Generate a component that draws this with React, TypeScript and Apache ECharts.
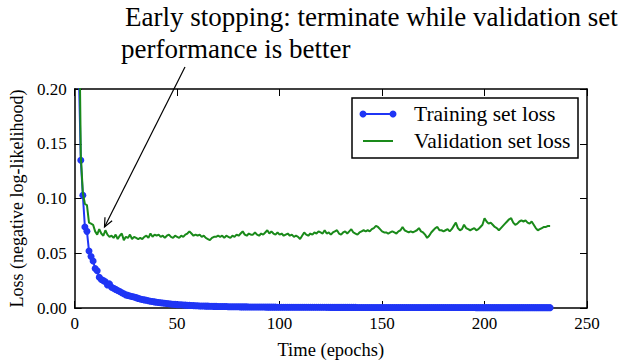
import React, { useEffect, useRef } from "react";
import * as echarts from "echarts";

// Loss values per epoch (epoch = index + 1)
const trainingLoss = [
  0.45, 0.22, 0.135, 0.103, 0.074, 0.070, 0.052, 0.047, 0.043, 0.036,
  0.034, 0.028, 0.026, 0.025, 0.024, 0.021, 0.022, 0.019, 0.018, 0.017,
  0.016, 0.015, 0.014, 0.013, 0.012, 0.0115, 0.011, 0.0105, 0.010, 0.0095,
  0.0088, 0.0082, 0.0078, 0.0074, 0.007, 0.0066, 0.0062, 0.0059, 0.0056, 0.0053,
  0.005, 0.0048, 0.0046, 0.0043, 0.0041, 0.0039, 0.0037, 0.0035, 0.0033, 0.0031,
  0.003, 0.0029, 0.0027, 0.0026, 0.0025, 0.0024, 0.0023, 0.0022, 0.0021, 0.002,
  0.0019, 0.0019, 0.0018, 0.0017, 0.0017, 0.0016, 0.0016, 0.0015, 0.0015, 0.0014,
  0.0014, 0.0013, 0.0013, 0.0013, 0.0012, 0.0012, 0.0012, 0.0011, 0.0011, 0.0011,
  0.0010, 0.0010, 0.0010, 0.0010, 0.00095, 0.00095, 0.0009, 0.0009, 0.0009, 0.00088,
  0.00085, 0.00085, 0.00083, 0.0008, 0.0008, 0.0008, 0.00078, 0.00077, 0.00075, 0.00075,
  0.00074, 0.00073, 0.00072, 0.00072, 0.00071, 0.0007, 0.0007, 0.00069, 0.00068, 0.00068, 0.00067, 0.00066,
  0.00066, 0.00065, 0.00065, 0.00064, 0.00063, 0.00063, 0.00062, 0.00062, 0.00061, 0.00061, 0.0006, 0.0006,
  0.00059, 0.00059, 0.00058, 0.00058, 0.00057, 0.00057, 0.00056, 0.00056, 0.00055, 0.00055, 0.00055, 0.00054,
  0.00054, 0.00053, 0.00053, 0.00053, 0.00052, 0.00052, 0.00051, 0.00051, 0.00051, 0.0005, 0.0005, 0.0005,
  0.00049, 0.00049, 0.00049, 0.00048, 0.00048, 0.00048, 0.00047, 0.00047, 0.00047, 0.00046, 0.00046, 0.00046,
  0.00046, 0.00045, 0.00045, 0.00045, 0.00044, 0.00044, 0.00044, 0.00044, 0.00043, 0.00043, 0.00043, 0.00043,
  0.00042, 0.00042, 0.00042, 0.00042, 0.00041, 0.00041, 0.00041, 0.00041, 0.0004, 0.0004, 0.0004, 0.0004,
  0.0004, 0.00039, 0.00039, 0.00039, 0.00039, 0.00039, 0.00038, 0.00038, 0.00038, 0.00038, 0.00038, 0.00037,
  0.00037, 0.00037, 0.00037, 0.00037, 0.00036, 0.00036, 0.00036, 0.00036, 0.00036, 0.00036, 0.00035, 0.00035,
  0.00035, 0.00035, 0.00035, 0.00035, 0.00034, 0.00034, 0.00034, 0.00034, 0.00034, 0.00034, 0.00033, 0.00033,
  0.00033, 0.00033, 0.00033, 0.00033, 0.00033, 0.00032, 0.00032, 0.00032, 0.00032, 0.00032, 0.00032, 0.00031,
];

const validationLoss = [
  0.5, 0.3, 0.14, 0.105, 0.095, 0.094, 0.078, 0.077, 0.076, 0.070,
  0.067, 0.072, 0.068, 0.066, 0.071, 0.067, 0.065, 0.066, 0.064, 0.067,
  0.063, 0.066, 0.068, 0.062, 0.065, 0.064, 0.067, 0.063, 0.065, 0.064,
  0.063, 0.064, 0.063, 0.065, 0.066, 0.064, 0.068, 0.065, 0.067, 0.066,
  0.067, 0.065, 0.066, 0.064, 0.066, 0.067, 0.065, 0.064, 0.066, 0.065,
  0.064, 0.066, 0.065, 0.067, 0.068, 0.070, 0.068, 0.066, 0.067, 0.066,
  0.067, 0.065, 0.066, 0.064, 0.063, 0.062, 0.064, 0.065, 0.065, 0.066,
  0.065, 0.066, 0.064, 0.066, 0.065, 0.064, 0.066, 0.065, 0.067, 0.066,
  0.068, 0.070, 0.067, 0.066, 0.068, 0.067, 0.067, 0.069, 0.067, 0.066,
  0.068, 0.067, 0.069, 0.071, 0.068, 0.070, 0.068, 0.067, 0.069, 0.067,
  0.068, 0.066, 0.067, 0.068, 0.066, 0.067, 0.065, 0.066, 0.065, 0.063,
  0.066, 0.069, 0.067, 0.066, 0.068, 0.067, 0.069, 0.068, 0.070, 0.069,
  0.068, 0.071, 0.068, 0.069, 0.067, 0.069, 0.070, 0.071, 0.068, 0.067,
  0.069, 0.070, 0.068, 0.070, 0.072, 0.069, 0.068, 0.067, 0.069, 0.070,
  0.071, 0.070, 0.071, 0.070, 0.072, 0.073, 0.075, 0.074, 0.072, 0.070,
  0.069, 0.069, 0.068, 0.069, 0.070, 0.069, 0.068, 0.070, 0.071, 0.074,
  0.071, 0.070, 0.069, 0.070, 0.069, 0.070, 0.071, 0.073, 0.070, 0.069,
  0.067, 0.064, 0.066, 0.069, 0.071, 0.073, 0.074, 0.071, 0.071, 0.070,
  0.071, 0.072, 0.070, 0.072, 0.075, 0.078, 0.073, 0.071, 0.072, 0.076,
  0.073, 0.072, 0.071, 0.072, 0.073, 0.071, 0.072, 0.074, 0.076, 0.082,
  0.079, 0.077, 0.078, 0.076, 0.074, 0.073, 0.071, 0.073, 0.075, 0.077,
  0.079, 0.081, 0.082, 0.078, 0.076, 0.077, 0.079, 0.080, 0.079, 0.080,
  0.078, 0.077, 0.079, 0.076, 0.073, 0.071, 0.072, 0.073, 0.074, 0.074, 0.075, 0.075,
];

const xTickMax = 250;
const xTickStep = 50;
const yTickMax = 0.2;
const yTickStep = 0.05;

const seriesNames = ["Training set loss", "Validation set loss"];
const annotationLines = [
  "Early stopping: terminate while validation set",
  "performance is better",
];

const FONT = "'Liberation Serif', 'DejaVu Serif', serif";
const BLUE = "#1f35f5";
const GREEN = "#1a8a1a";

export default function App() {
  const ref = useRef<HTMLDivElement>(null);

  useEffect(() => {
    if (!ref.current) return;
    const chart = echarts.init(ref.current, null, { renderer: "svg" });

    const trainData = trainingLoss.map((v, i) => [i + 1, v]);
    const valData = validationLoss.map((v, i) => [i + 1, v]);

    const axisLine = { show: true, onZero: false, lineStyle: { color: "#000", width: 1.5 } };
    const axisTick = { show: true, inside: true, length: 7, lineStyle: { color: "#000", width: 1 } };
    const labelStyle = { color: "#000", fontFamily: FONT, fontSize: 17 };

    // arrow geometry
    const start = [185, 67];
    const tip = [104.5, 227];
    const dx = tip[0] - start[0];
    const dy = tip[1] - start[1];
    const len = Math.sqrt(dx * dx + dy * dy);
    const ux = dx / len;
    const uy = dy / len;
    const hl = 9;
    const hw = 4;
    const bx = tip[0] - ux * hl;
    const by = tip[1] - uy * hl;
    const head = [
      [bx - uy * hw, by + ux * hw],
      tip,
      [bx + uy * hw, by - ux * hw],
    ];

    chart.setOption({
      animation: false,
      backgroundColor: "#fff",
      grid: { left: 73, right: 51, top: 89, bottom: 53.5, containLabel: false },
      xAxis: [
        {
          type: "value",
          min: 0,
          max: xTickMax,
          interval: xTickStep,
          position: "bottom",
          axisLine,
          axisTick,
          axisLabel: { ...labelStyle, margin: 7 },
          splitLine: { show: false },
          name: "Time (epochs)",
          nameLocation: "middle",
          nameGap: 32,
          nameTextStyle: { color: "#000", fontFamily: FONT, fontSize: 18.5 },
        },
        {
          type: "value",
          min: 0,
          max: xTickMax,
          interval: xTickStep,
          position: "top",
          axisLine,
          axisTick,
          axisLabel: { show: false },
          splitLine: { show: false },
        },
      ],
      yAxis: [
        {
          type: "value",
          min: 0,
          max: yTickMax,
          interval: yTickStep,
          position: "left",
          axisLine,
          axisTick,
          axisLabel: { ...labelStyle, margin: 8, formatter: (v: number) => v.toFixed(2) },
          splitLine: { show: false },
          name: "Loss (negative log-likelihood)",
          nameLocation: "middle",
          nameGap: 46,
          nameTextStyle: { color: "#000", fontFamily: FONT, fontSize: 18 },
        },
        {
          type: "value",
          min: 0,
          max: yTickMax,
          interval: yTickStep,
          position: "right",
          axisLine,
          axisTick,
          axisLabel: { show: false },
          splitLine: { show: false },
        },
      ],
      series: [
        {
          type: "line",
          name: seriesNames[0],
          data: trainData,
          symbol: "circle",
          symbolSize: 7,
          showAllSymbol: true,
          clip: true,
          lineStyle: { color: BLUE, width: 2 },
          itemStyle: { color: BLUE },
          z: 2,
        },
        {
          type: "line",
          name: seriesNames[1],
          data: valData,
          symbol: "none",
          showSymbol: false,
          clip: true,
          lineStyle: { color: GREEN, width: 2 },
          itemStyle: { color: GREEN },
          z: 3,
        },
      ],
      graphic: [
        {
          type: "group",
          z: 100,
          children: [
            {
              type: "rect",
              shape: { x: 352, y: 98, width: 226, height: 60 },
              style: { fill: "#fff", stroke: "#000", lineWidth: 1.5 },
            },
            {
              type: "line",
              shape: { x1: 363, y1: 114, x2: 393, y2: 114 },
              style: { stroke: BLUE, lineWidth: 2 },
            },
            { type: "circle", shape: { cx: 363, cy: 114, r: 3.5 }, style: { fill: BLUE } },
            { type: "circle", shape: { cx: 393, cy: 114, r: 3.5 }, style: { fill: BLUE } },
            {
              type: "text",
              x: 414,
              y: 114,
              style: {
                text: seriesNames[0],
                fill: "#000",
                font: `21.5px ${FONT}`,
                textAlign: "left",
                textVerticalAlign: "middle",
              },
            },
            {
              type: "line",
              shape: { x1: 363, y1: 141, x2: 393, y2: 141 },
              style: { stroke: GREEN, lineWidth: 2 },
            },
            {
              type: "text",
              x: 414,
              y: 141,
              style: {
                text: seriesNames[1],
                fill: "#000",
                font: `21.5px ${FONT}`,
                textAlign: "left",
                textVerticalAlign: "middle",
              },
            },
          ],
        },
        {
          type: "text",
          x: 125,
          y: 17,
          z: 100,
          style: {
            text: annotationLines[0],
            fill: "#000",
            font: `27px ${FONT}`,
            textAlign: "left",
            textVerticalAlign: "middle",
          },
        },
        {
          type: "text",
          x: 121,
          y: 49,
          z: 100,
          style: {
            text: annotationLines[1],
            fill: "#000",
            font: `27px ${FONT}`,
            textAlign: "left",
            textVerticalAlign: "middle",
          },
        },
        {
          type: "line",
          z: 100,
          shape: { x1: start[0], y1: start[1], x2: tip[0], y2: tip[1] },
          style: { stroke: "#000", lineWidth: 1.2 },
        },
        {
          type: "polyline",
          z: 100,
          shape: { points: head },
          style: { stroke: "#000", lineWidth: 1.2, fill: null },
        },
      ],
    });

    return () => chart.dispose();
  }, []);

  return (
    <div
      ref={ref}
      style={{ position: "fixed", left: 0, top: 0, width: 638, height: 364, background: "#fff" }}
    />
  );
}
